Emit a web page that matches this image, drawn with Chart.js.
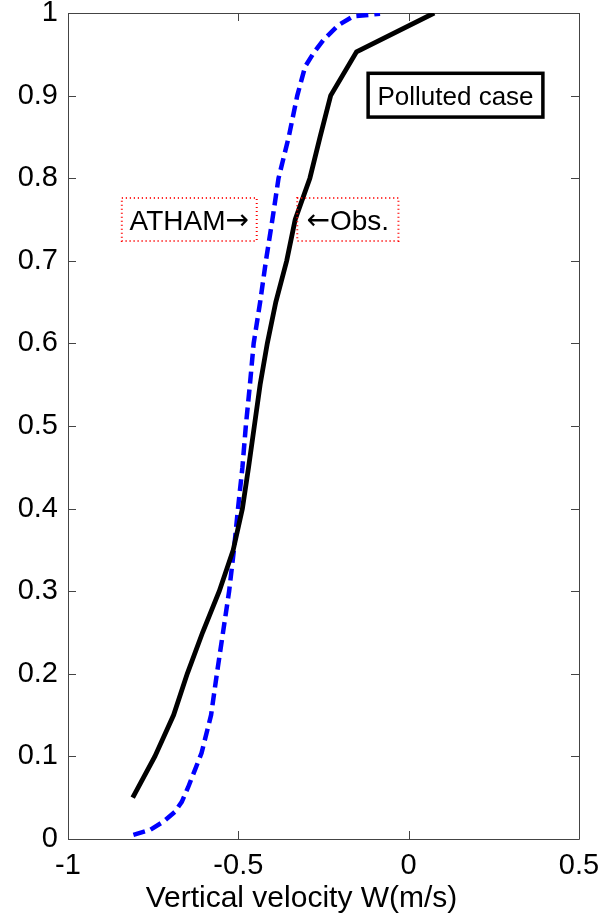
<!DOCTYPE html>
<html>
<head>
<meta charset="utf-8">
<script src="https://cdn.jsdelivr.net/npm/chart.js@4.4.1/dist/chart.umd.min.js"></script>
<style>
  html, body { margin: 0; padding: 0; background: #fff; }
</style>
</head>
<body>
<canvas id="myChart" width="613" height="915"></canvas>
<script>
// normalised height vs vertical velocity, polluted case
const obsHeight = [0.05, 0.1, 0.15, 0.2, 0.25, 0.3, 0.35, 0.4, 0.45, 0.5, 0.55, 0.6, 0.65, 0.7, 0.75, 0.8, 0.85, 0.9, 0.953, 1.0];
const obsW = [-0.81, -0.745, -0.69, -0.65, -0.605, -0.556, -0.515, -0.488, -0.47, -0.453, -0.436, -0.415, -0.39, -0.358, -0.333, -0.29, -0.26, -0.229, -0.153, 0.075];

const athamHeight = [0.005, 0.011, 0.021, 0.033, 0.045, 0.063, 0.084, 0.104, 0.15, 0.2, 0.25, 0.3, 0.35, 0.4, 0.45, 0.5, 0.55, 0.6, 0.65, 0.7, 0.75, 0.8, 0.85, 0.9, 0.935, 0.951, 0.967, 0.985, 0.996, 0.999];
const athamW = [-0.808, -0.759, -0.72, -0.686, -0.666, -0.647, -0.627, -0.608, -0.58, -0.563, -0.545, -0.527, -0.513, -0.501, -0.488, -0.478, -0.466, -0.455, -0.436, -0.419, -0.40, -0.382, -0.352, -0.327, -0.304, -0.28, -0.251, -0.207, -0.163, -0.084];

const xTicks = [-1, -0.5, 0, 0.5];
const xTickLabels = ['-1', '-0.5', '0', '0.5'];
const yTicks = [0, 0.1, 0.2, 0.3, 0.4, 0.5, 0.6, 0.7, 0.8, 0.9, 1];
const yTickLabels = ['0', '0.1', '0.2', '0.3', '0.4', '0.5', '0.6', '0.7', '0.8', '0.9', '1'];

const FONT = '"Liberation Sans", Arial, Helvetica, sans-serif';
const ARROW_FONT = '"DejaVu Sans", sans-serif';

// text boxes, in data units: [x0, x1, y0, y1]
const athamBox = [-0.842, -0.446, 0.724, 0.776];
const obsBox = [-0.327, -0.030, 0.724, 0.776];
const legendBox = [-0.119, 0.394, 0.874, 0.927];

function toPoints(xs, ys) {
    return xs.map((v, i) => ({x: v, y: ys[i]}));
}

// matlab style box with inward ticks on all four sides
const axesBox = {
    id: 'axesBox',
    beforeDatasetsDraw(chart) {
        const {ctx, chartArea: a, scales: {x, y}} = chart;
        ctx.save();
        ctx.strokeStyle = '#444';
        ctx.lineWidth = 1;
        ctx.beginPath();
        ctx.rect(Math.round(a.left) + 0.5, Math.round(a.top) + 0.5, Math.round(a.width), Math.round(a.height));
        const tl = 8;
        xTicks.forEach(v => {
            const px = Math.round(x.getPixelForValue(v)) + 0.5;
            ctx.moveTo(px, a.bottom); ctx.lineTo(px, a.bottom - tl);
            ctx.moveTo(px, a.top); ctx.lineTo(px, a.top + tl);
        });
        yTicks.forEach(v => {
            const py = Math.round(y.getPixelForValue(v)) + 0.5;
            ctx.moveTo(a.left, py); ctx.lineTo(a.left + tl, py);
            ctx.moveTo(a.right, py); ctx.lineTo(a.right - tl, py);
        });
        ctx.stroke();
        ctx.restore();
    }
};

function boxPixels(chart, b) {
    const {x, y} = chart.scales;
    const l = x.getPixelForValue(b[0]), r = x.getPixelForValue(b[1]);
    const t = y.getPixelForValue(b[3]), btm = y.getPixelForValue(b[2]);
    return {l, r, t, b: btm};
}

// text made of runs, arrows taken from DejaVu so they come out long
function drawRuns(ctx, p, runs, size) {
    ctx.fillStyle = '#000';
    ctx.textAlign = 'left';
    ctx.textBaseline = 'alphabetic';
    const fonts = runs.map(r => size + 'px ' + (r.arrow ? ARROW_FONT : FONT));
    const widths = runs.map((r, i) => { ctx.font = fonts[i]; return ctx.measureText(r.text).width; });
    const total = widths.reduce((s, w) => s + w, 0);
    let cx = (p.l + p.r) / 2 - total / 2;
    const base = (p.t + p.b) / 2 + size * 0.36;
    runs.forEach((r, i) => {
        ctx.font = fonts[i];
        ctx.fillText(r.text, cx, r.arrow ? base - size * 0.03 : base);
        cx += widths[i];
    });
}

const annotations = {
    id: 'annotations',
    afterDatasetsDraw(chart) {
        const {ctx, chartArea: a} = chart;
        ctx.save();

        // red dotted labels pointing at the two curves
        const labels = [
            [athamBox, [{text: 'ATHAM'}, {text: '\u2192', arrow: true}]],
            [obsBox, [{text: '\u2190', arrow: true}, {text: 'Obs.'}]]
        ];
        labels.forEach(([b, runs]) => {
            const p = boxPixels(chart, b);
            ctx.strokeStyle = '#ff0000';
            ctx.lineWidth = 2;
            ctx.setLineDash([1, 3]);
            ctx.strokeRect(p.l, p.t, p.r - p.l, p.b - p.t);
            ctx.setLineDash([]);
            drawRuns(ctx, p, runs, 28);
        });

        // case label
        const lp = boxPixels(chart, legendBox);
        ctx.fillStyle = '#fff';
        ctx.fillRect(lp.l, lp.t, lp.r - lp.l, lp.b - lp.t);
        ctx.strokeStyle = '#000';
        ctx.lineWidth = 3.5;
        ctx.strokeRect(lp.l, lp.t, lp.r - lp.l, lp.b - lp.t);
        drawRuns(ctx, lp, [{text: 'Polluted case'}], 26);

        // x axis label
        ctx.font = '30px ' + FONT;
        ctx.fillStyle = '#000';
        ctx.textAlign = 'center';
        ctx.textBaseline = 'alphabetic';
        ctx.fillText('Vertical velocity W(m/s)', (a.left + a.right) / 2 - 22, a.bottom + 68);
        ctx.restore();
    }
};

new Chart(document.getElementById('myChart'), {
    type: 'scatter',
    data: {
        datasets: [
            {
                label: 'Obs.',
                data: toPoints(obsW, obsHeight),
                showLine: true,
                borderColor: '#000000',
                borderWidth: 4.8,
                pointRadius: 0,
                tension: 0,
                clip: 0
            },
            {
                label: 'ATHAM',
                data: toPoints(athamW, athamHeight),
                showLine: true,
                borderColor: '#0000ff',
                borderWidth: 4.5,
                borderDash: [12, 6],
                pointRadius: 0,
                tension: 0,
                clip: 0
            }
        ]
    },
    options: {
        responsive: false,
        animation: false,
        devicePixelRatio: 1,
        layout: {padding: {top: 13, right: 34, left: 0, bottom: 0}},
        plugins: {
            legend: {display: false},
            tooltip: {enabled: false}
        },
        scales: {
            x: {
                type: 'linear',
                min: -1,
                max: 0.5,
                grid: {display: false, drawTicks: false},
                border: {display: false},
                afterBuildTicks: s => { s.ticks = xTicks.map(v => ({value: v})); },
                afterFit: s => { s.height = 76; s.paddingLeft = 0; s.paddingRight = 0; },
                ticks: {
                    color: '#000',
                    font: {family: FONT, size: 29},
                    padding: 10,
                    maxRotation: 0,
                    autoSkip: false,
                    callback: (v, i) => xTickLabels[i]
                }
            },
            y: {
                type: 'linear',
                min: 0,
                max: 1,
                grid: {display: false, drawTicks: false},
                border: {display: false},
                afterBuildTicks: s => { s.ticks = yTicks.map(v => ({value: v})); },
                afterFit: s => { s.width = 68; s.paddingTop = 0; s.paddingBottom = 0; },
                ticks: {
                    color: '#000',
                    font: {family: FONT, size: 29},
                    padding: 10,
                    autoSkip: false,
                    callback: (v, i) => yTickLabels[i]
                }
            }
        }
    },
    plugins: [axesBox, annotations]
});
</script>
</body>
</html>
